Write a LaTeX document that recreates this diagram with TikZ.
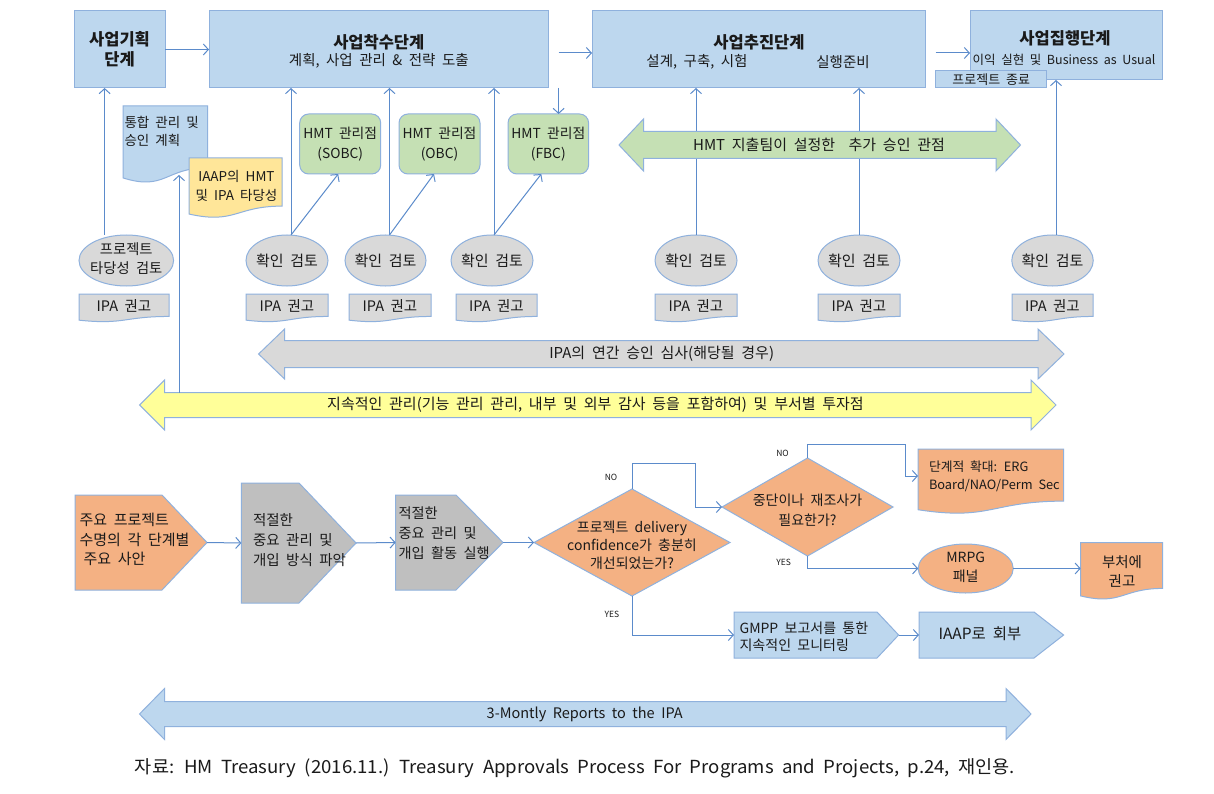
\documentclass[tikz,border=0pt]{standalone}
\usepackage{fontspec}
\usepackage{graphicx}
\setmainfont[WordSpace=2.0]{Noto Sans CJK KR}
\usetikzlibrary{arrows.meta,shapes.geometric,calc}
\definecolor{lblue}{HTML}{BDD7EE}
\definecolor{bord}{HTML}{8FB1DD}
\definecolor{lnc}{HTML}{5B8BCB}
\definecolor{lgreen}{HTML}{C5E0B4}
\definecolor{lgrey}{HTML}{D9D9D9}
\definecolor{mgrey}{HTML}{BFBFBF}
\definecolor{lyel}{HTML}{FFE699}
\definecolor{yarrow}{HTML}{FFFF99}
\definecolor{lorange}{HTML}{F4B183}
\definecolor{txt}{HTML}{1A1A1A}

% document shape: style, x1, y1, x2, h
\newcommand\docpath[5]{%
  \path[#1] (#2,#3) -- (#4,#3) -- (#4,{#3+0.802*#5}) .. controls ({(#2+#4)/2},{#3+0.802*#5}) and ({(#2+#4)/2},{#3+1.107*#5}) .. (#2,{#3+0.934*#5}) -- cycle;}
% double block arrow: style, xl, xr, yc, shaft half, head half, head length
\newcommand\dbarrow[7]{%
  \path[#1] (#2,#4) -- ({#2+#7},{#4-#6}) -- ({#2+#7},{#4-#5}) -- ({#3-#7},{#4-#5}) -- ({#3-#7},{#4-#6}) -- (#3,#4) -- ({#3-#7},{#4+#6}) -- ({#3-#7},{#4+#5}) -- ({#2+#7},{#4+#5}) -- ({#2+#7},{#4+#6}) -- cycle;}
% pentagon: name, style, x1, y1, x2, y2, xp
\newcommand\pent[7]{%
  \node[hold, minimum width={#5-#3}, minimum height={#6-#4}] (#1) at ({(#3+#5)/2},{(#4+#6)/2}) {};
  \path[#2] (#3,#4) -- (#7,#4) -- (#5,{(#4+#6)/2}) -- (#7,#6) -- (#3,#6) -- cycle;}
% IPA box: name, x1, x2
\newcommand\ipabox[3]{%
  \node[hold, minimum width={#3-#2}, minimum height=26] (#1) at ({(#2+#3)/2},307) {};
  \docpath{gdoc}{#2}{294}{#3}{28}
  \node[font=\fipa] at ({(#2+#3)/2},305.5) {IPA 권고};}

\newcommand\ftitle{\fontsize{16.5}{20}\selectfont\bfseries}
\newcommand\fsub{\fontsize{14.5}{18}\selectfont}
\newcommand\fsmall{\fontsize{12.5}{16}\selectfont}
\newcommand\fipa{\fontsize{14.5}{16}\selectfont}
\newcommand\fbig{\fontsize{15}{19.5}\selectfont}
\newcommand\ftiny{\fontsize{8.5}{10}\selectfont}

\begin{document}
\begin{tikzpicture}[x=1pt,y=-1pt,
  every node/.style={text=txt, inner sep=0pt, outer sep=0pt},
  hold/.style={inner sep=0pt, outer sep=0pt, draw=none},
  box/.style={draw=bord, fill=lblue, line width=1pt},
  gdoc/.style={draw=bord, fill=lgrey, line width=1pt},
  ydoc/.style={draw=bord, fill=lyel, line width=1pt},
  odoc/.style={draw=bord, fill=lorange, line width=1pt},
  gpf/.style={draw=bord, fill=mgrey, line width=1pt},
  gbox/.style={draw=bord, fill=lgreen, line width=1pt, rounded corners=9pt, align=center, font=\fontsize{13.8}{20}\selectfont},
  ell/.style={ellipse, draw=bord, fill=lgrey, line width=1pt},
  arr/.style={draw=lnc, line width=1pt, -{Straight Barb[length=5pt,width=11pt]}},
  lab/.style={font=\ftiny}
]
\useasboundingbox (0,0) rectangle (1214,794);
\fill[white] (0,0) rectangle (1214,794);

% ---------------- top stage boxes
\node[box, minimum width=91, minimum height=77, align=center, font=\ftitle] (b0) at (119.5,49.5) {사업기획\\단계};
\node[box, minimum width=339.6, minimum height=77] (b1) at (378.8,49.5) {};
\node[font=\ftitle] (b1t) at (378.8,42) {사업착수단계};
\node[font=\fsub] (b1s) at (378.8,61) {계획, 사업 관리 \& 전략 도출};
\node[box, minimum width=333.6, minimum height=77] (b2) at (758.8,49.5) {};
\node[font=\ftitle] (b2t) at (759,42) {사업추진단계};
\node[font=\fsub] (b2s1) at (697,62) {설계, 구축, 시험};
\node[font=\fsub] (b2s2) at (843,62) {실행준비};
\node[box, minimum width=192, minimum height=69] (b3) at (1066,45.5) {};
\node[font=\ftitle] (b3t) at (1065,38) {사업집행단계};
\node[font=\fsmall] (b3s) at (1064,60) {이익 실현 및 Business as Usual};
\node[box, minimum width=111.5, minimum height=17, font=\fontsize{13}{16}\selectfont] (b4) at (991.2,79.5) {프로젝트 종료};

% ---------------- HMT 관리점
\node[gbox, minimum width=81, minimum height=60] (g1) at (340.2,144) {HMT 관리점\\(SOBC)};
\node[gbox, minimum width=81, minimum height=60] (g2) at (439.5,144) {HMT 관리점\\(OBC)};
\node[gbox, minimum width=80.6, minimum height=60] (g3) at (548.3,144) {HMT 관리점\\(FBC)};

% top arrows
\draw[arr] (b0.east) -- (b1.west);
\coordinate (c1) at (558.6,53);
\draw[arr] (c1) -- (c1 -| b2.west);
\draw[arr] (c1 |- b1.south) -- (c1 |- g3.north);
\coordinate (c2) at (935.5,53);
\draw[arr] (c2) -- (c2 -| b3.west);

% ---------------- documents on the left
\node[hold, minimum width=84.5, minimum height=69] (d0) at (165.25,140.5) {};
\docpath{box}{123}{106}{207.5}{77}
\node[font=\fontsize{13.5}{18}\selectfont, align=left, anchor=west] (d0t) at (124.5,131) {통합 관리 및\\승인 계획};
\node[hold, minimum width=93, minimum height=56] (d1) at (235.5,186) {};
\docpath{ydoc}{189}{158}{282}{60}
\node[font=\fontsize{13.5}{18.5}\selectfont, align=center] (d1t) at (236.5,186) {IAAP의 HMT\\및 IPA 타당성};

% ---------------- review ellipses
\node[ell, minimum width=94.6, minimum height=51] (e0) at (126.3,260.5) {};
\node[font=\fontsize{14.3}{19}\selectfont, align=center] at (126.3,259) {프로젝트\\타당성 검토};
\foreach \n/\x/\w in {e1/287/82, e2/385.5/81, e3/492/82, e4/696/82, e5/859/82, e6/1052.5/81.5}{
  \node[ell, minimum width=\w, minimum height=51] (\n) at (\x,260.5) {};
  \node[font=\fontsize{15}{16}\selectfont] at (\x,260.5) {확인 검토};
}

% IPA recommendation boxes
\ipabox{i0}{79}{169}
\ipabox{i1}{246}{328}
\ipabox{i2}{349}{431}
\ipabox{i3}{456}{537}
\ipabox{i4}{655}{737}
\ipabox{i5}{818}{900}
\ipabox{i6}{1012}{1093}

% connectors from reviews
\draw[arr] ([xshift=-21.7pt]e0.north) -- ([xshift=-21.7pt]e0.north |- b0.south);
\draw[arr] ([xshift=4pt]e1.north) -- ([xshift=4pt]e1.north |- b1.south);
\draw[arr] ([xshift=4pt]e1.north) -- ([xshift=-2pt]g1.south);
\draw[arr] ([xshift=4pt]e2.north) -- ([xshift=4pt]e2.north |- b1.south);
\draw[arr] ([xshift=4pt]e2.north) -- ([xshift=-5.5pt]g2.south);
\draw[arr] ([xshift=2pt]e3.north) -- ([xshift=2pt]e3.north |- b1.south);
\draw[arr] ([xshift=2pt]e3.north) -- ([xshift=-7pt]g3.south);
\draw[arr] (e4.north) -- (e4.north |- b2.south);
\draw[arr] (e5.north) -- (e5.north |- b2.south);
\draw[arr] ([xshift=3.5pt]e6.north) -- ([xshift=3.5pt]e6.north |- b3.south);

% ---------------- block arrows
\dbarrow{fill=lgreen, draw=bord, line width=1pt}{619}{1020.5}{145}{13.5}{26}{24.5}
\node[font=\fontsize{15}{18}\selectfont] (ga) at (819,145) {HMT 지출팀이 설정한\ \ 추가 승인 관점};
\dbarrow{fill=lgrey, draw=bord, line width=1pt}{258.6}{1064}{354}{13.5}{25}{26}
\node[font=\fontsize{15}{18}\selectfont] (gra) at (661.7,354) {IPA의 연간 승인 심사(해당될 경우)};
\dbarrow{fill=yarrow, draw=bord, line width=1pt}{139.6}{1056}{405}{12.5}{25}{25}
\node[font=\fontsize{15}{18}\selectfont] (yla) at (595.5,405) {지속적인 관리(기능 관리 관리, 내부 및 외부 감사 등을 포함하여) 및 부서별 투자점};
\coordinate (ya) at (179,392.5);
\draw[arr] (ya) -- (ya |- d0.south);

% ---------------- bottom flow
\pent{p0}{odoc}{75}{495}{207}{590}{162}
\node[font=\fbig, align=left, anchor=west] (p0t) at (79.5,539.7) {주요 프로젝트\\수명의 각 단계별\\\hspace{4pt}주요 사안};
\pent{p1}{gpf}{241.4}{483}{356}{603}{299}
\node[font=\fontsize{14.5}{20}\selectfont, align=left, anchor=west] (p1t) at (253,540) {적절한\\중요 관리 및\\개입 방식 파악};
\pent{p2}{gpf}{395.7}{495}{503}{590}{456}
\node[font=\fontsize{14.2}{20}\selectfont, align=left, anchor=west] (p2t) at (398.6,533) {적절한\\중요 관리 및\\개입 활동 실행};

\node[diamond, draw=bord, fill=lorange, line width=1pt, minimum width=196, minimum height=107, inner sep=0pt] (dm1) at (632,542.5) {};
\node[font=\fontsize{14}{18}\selectfont, align=center] (dm1t) at (632,545) {프로젝트 delivery\\confidence가 충분히\\개선되었는가?};
\node[diamond, draw=bord, fill=lorange, line width=1pt, minimum width=171, minimum height=98, inner sep=0pt] (dm2) at (807.5,507) {};
\node[font=\fontsize{14}{20}\selectfont, align=center] (dm2t) at (807.5,510) {중단이나 재조사가\\필요한가?};

\draw[arr] (p0.east) -- (p1.west);
\draw[arr] (p1.east) -- (p2.west);
\draw[arr] (p2.east) -- (dm1.west);

% NO branch 1
\draw[arr] (dm1.north) -- ++(0,-26) -| ([xshift=-27pt]dm2.west) -- (dm2.west);
\node[lab] at (611,477) {NO};

% escalation document
\node[hold, minimum width=145.6, minimum height=54] (d2) at (990.8,476) {};
\docpath{odoc}{918}{449}{1063.6}{65}
\node[font=\fontsize{12.8}{18}\selectfont, align=left, anchor=west] (d2t) at (929,476) {단계적 확대: ERG\\Board/NAO/Perm Sec};
\draw[arr] (dm2.north) -- ++(0,-14) -| ([xshift=-12.3pt]d2.west) -- (d2.west);
\node[lab] at (782.5,453) {NO};

% MRPG
\node[ellipse, draw=bord, fill=lorange, line width=1pt, minimum width=95, minimum height=49] (mr) at (965.7,568.5) {};
\node[font=\fontsize{14}{19}\selectfont, align=center] (mrt) at (965.7,567.5) {MRPG\\패널};
\draw[arr] (dm2.south) |- (mr.west);
\node[lab] at (783.6,562) {YES};

\node[hold, minimum width=82, minimum height=48.6] (d3) at (1121.7,567) {};
\docpath{odoc}{1080.7}{542.7}{1162.7}{57}
\node[font=\fontsize{14.5}{19.3}\selectfont, align=center] (d3t) at (1122,571.3) {부처에\\권고};
\draw[arr] (mr.east) -- (mr.east -| d3.west);

% GMPP / IAAP
\pent{gm}{box}{734}{612}{898.6}{658}{877}
\node[font=\fontsize{14}{16.5}\selectfont, align=left, anchor=west] (gmt) at (739.6,637) {GMPP 보고서를 통한\\지속적인 모니터링};
\pent{ia}{box}{919}{612}{1063.6}{658}{1034}
\node[font=\fontsize{15.5}{18}\selectfont] (iat) at (980,634) {IAAP로 회부};
\draw[arr] (dm1.south) |- (gm.west);
\node[lab] at (612,614) {YES};
\draw[arr] (gm.east) -- (ia.west);

% ---------------- 3-monthly reports
\dbarrow{fill=lblue, draw=bord, line width=1pt}{139.5}{1031}{714}{12.5}{25.5}{25}
\node[font=\fontsize{14.5}{16}\selectfont] (rep) at (584.7,714) {3-Montly Reports to the IPA};

% caption
\node (cap) at (575,768) {\resizebox{880pt}{\height}{\fontsize{18}{20}\selectfont 자료: HM Treasury (2016.11.) Treasury Approvals Process For Programs and Projects, p.24, 재인용.}};
\end{tikzpicture}
\end{document}
